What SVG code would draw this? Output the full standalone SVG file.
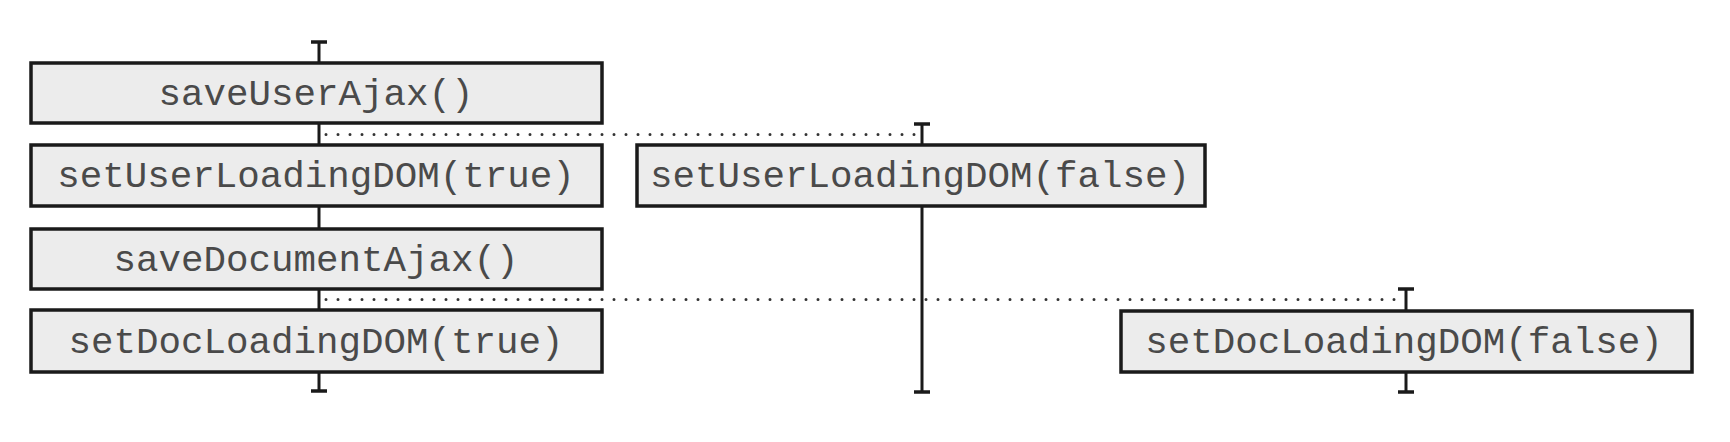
<svg xmlns="http://www.w3.org/2000/svg" width="1730" height="442" viewBox="0 0 1730 442">
<style>
.box{fill:#ececec;stroke:#1a1a1a;stroke-width:3.5}
.lbl{font-family:"Liberation Mono","Courier New",monospace;font-size:37.5px;fill:#4a4a4a;text-anchor:middle}
.life{stroke:#1a1a1a;stroke-width:3;fill:none}
.tick{stroke:#1a1a1a;stroke-width:3.5;fill:none}
.dot{stroke:#333;stroke-width:3;stroke-linecap:round;stroke-dasharray:0 12;fill:none}
</style>
<rect width="1730" height="442" fill="#ffffff"/>
<g id="connectors">
<line class="life" x1="319" y1="41" x2="319" y2="392"/>
<line class="tick" x1="311" y1="42" x2="327" y2="42"/>
<line class="tick" x1="311" y1="391" x2="327" y2="391"/>
<line class="life" x1="922" y1="123" x2="922" y2="393"/>
<line class="tick" x1="914" y1="124" x2="930" y2="124"/>
<line class="tick" x1="914" y1="392" x2="930" y2="392"/>
<line class="life" x1="1406" y1="288" x2="1406" y2="393"/>
<line class="tick" x1="1398" y1="289" x2="1414" y2="289"/>
<line class="tick" x1="1398" y1="392" x2="1414" y2="392"/>
<line class="dot" x1="326" y1="134.5" x2="916" y2="134.5"/>
<line class="dot" x1="326" y1="299.5" x2="1400" y2="299.5"/>
</g>
<g id="saveUserAjax">
<rect class="box" x="31" y="63" width="571" height="60"/>
<text class="lbl" x="316" y="105">saveUserAjax()</text>
</g>
<g id="setUserLoadingDOM-true">
<rect class="box" x="31" y="145" width="571" height="61"/>
<text class="lbl" x="316" y="187">setUserLoadingDOM(true)</text>
</g>
<g id="saveDocumentAjax">
<rect class="box" x="31" y="229" width="571" height="60"/>
<text class="lbl" x="316" y="271">saveDocumentAjax()</text>
</g>
<g id="setDocLoadingDOM-true">
<rect class="box" x="31" y="310" width="571" height="62"/>
<text class="lbl" x="316" y="353">setDocLoadingDOM(true)</text>
</g>
<g id="setUserLoadingDOM-false">
<rect class="box" x="637" y="145" width="568" height="61"/>
<text class="lbl" x="920" y="187">setUserLoadingDOM(false)</text>
</g>
<g id="setDocLoadingDOM-false">
<rect class="box" x="1121" y="311" width="571" height="61"/>
<text class="lbl" x="1404" y="353">setDocLoadingDOM(false)</text>
</g>
</svg>
